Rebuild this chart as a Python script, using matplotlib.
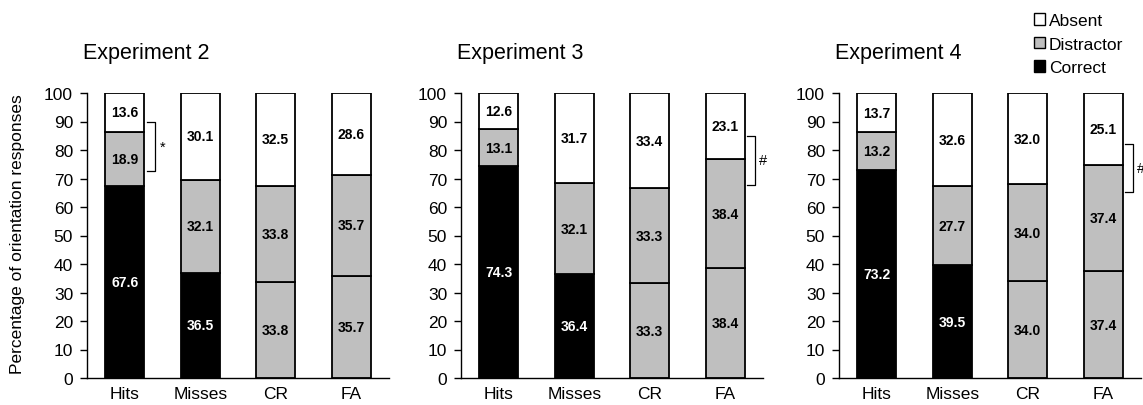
import matplotlib.pyplot as plt
from matplotlib.patches import Patch
import numpy as np

plt.rcParams['font.family'] = ['Liberation Sans', 'DejaVu Sans']

# Data
categories = ["Hits", "Misses", "CR", "FA"]
experiments = ["Experiment 2", "Experiment 3", "Experiment 4"]

correct = [
    [67.6, 36.5, 33.8, 35.7],
    [74.3, 36.4, 33.3, 38.4],
    [73.2, 39.5, 34.0, 37.4],
]
distractor = [
    [18.9, 32.1, 33.8, 35.7],
    [13.1, 32.1, 33.3, 38.4],
    [13.2, 27.7, 34.0, 37.4],
]
absent = [
    [13.6, 30.1, 32.5, 28.6],
    [12.6, 31.7, 33.4, 23.1],
    [13.7, 32.6, 32.0, 25.1],
]

# significance brackets: (category index, low, high, marker)
brackets = [
    (0, 72.5, 89.8, "*"),
    (3, 67.7, 85.0, "#"),
    (3, 65.2, 82.0, "#"),
]

grey = "#BFBFBF"
W, H = 1143, 406
fig = plt.figure(figsize=(W / 100, H / 100), dpi=100)

lefts = [87, 461, 839]
title_x = [83, 457, 835]
x = np.arange(len(categories))

for k in range(3):
    ax = fig.add_axes([lefts[k] / W, 1 - 379 / H, 302 / W, 285 / H])
    c = np.array(correct[k])
    d = np.array(distractor[k])
    a = np.array(absent[k])
    tot = c + d + a
    cn, dn, an = c / tot * 100, d / tot * 100, a / tot * 100

    # bottom segment: black where a target was present, grey otherwise
    bottom_col = ["black", "black", grey, grey]
    ax.bar(x, cn, width=0.51, color=bottom_col, edgecolor="black", linewidth=1.3)
    ax.bar(x, dn, bottom=cn, width=0.51, color=grey, edgecolor="black", linewidth=1.3)
    ax.bar(x, an, bottom=cn + dn, width=0.51, color="white", edgecolor="black", linewidth=1.3)

    for i in range(len(categories)):
        tc = "white" if bottom_col[i] == "black" else "black"
        ax.text(x[i], cn[i] / 2, f"{c[i]:.1f}", ha="center", va="center",
                color=tc, fontsize=10, fontweight="bold")
        ax.text(x[i], cn[i] + dn[i] / 2, f"{d[i]:.1f}", ha="center", va="center",
                color="black", fontsize=10, fontweight="bold")
        ax.text(x[i], cn[i] + dn[i] + an[i] / 2, f"{a[i]:.1f}", ha="center", va="center",
                color="black", fontsize=10, fontweight="bold")

    # bracket
    bi, lo, hi, mk = brackets[k]
    x0, x1 = bi + 0.29, bi + 0.40
    ax.plot([x0, x1, x1, x0], [hi, hi, lo, lo], color="black", lw=0.9, clip_on=False)
    ax.text(bi + 0.50, (lo + hi) / 2, mk, ha="center", va="center", fontsize=10.5, clip_on=False)

    ax.set_xlim(-0.5, 3.5)
    ax.set_ylim(0, 100)
    ax.set_yticks(np.arange(0, 101, 10))
    ax.set_xticks(x)
    ax.set_xticklabels(categories, fontsize=12.5)
    ax.tick_params(axis="x", length=0, pad=5.5)
    ax.tick_params(axis="y", labelsize=12.5, length=5, width=1, direction="out", pad=5)
    for s in ["top", "right"]:
        ax.spines[s].set_visible(False)
    for s in ["left", "bottom"]:
        ax.spines[s].set_linewidth(1)

    fig.text(title_x[k] / W, 1 - 53 / H, experiments[k], fontsize=15.5, ha="left", va="center")

fig.text(18 / W, 1 - 234 / H, "Percentage of orientation responses", rotation=90,
         fontsize=12.5, ha="center", va="center")

handles = [
    Patch(facecolor="white", edgecolor="black", label="Absent"),
    Patch(facecolor=grey, edgecolor="black", label="Distractor"),
    Patch(facecolor="black", edgecolor="black", label="Correct"),
]
fig.legend(handles=handles, loc="upper left", bbox_to_anchor=(1034 / W, 1 - 14 / H),
           frameon=False, fontsize=12.5, handlelength=0.65, handleheight=0.65,
           handletextpad=0.2, labelspacing=0.5, borderpad=0, borderaxespad=0)

fig.savefig("out.png", dpi=100)
